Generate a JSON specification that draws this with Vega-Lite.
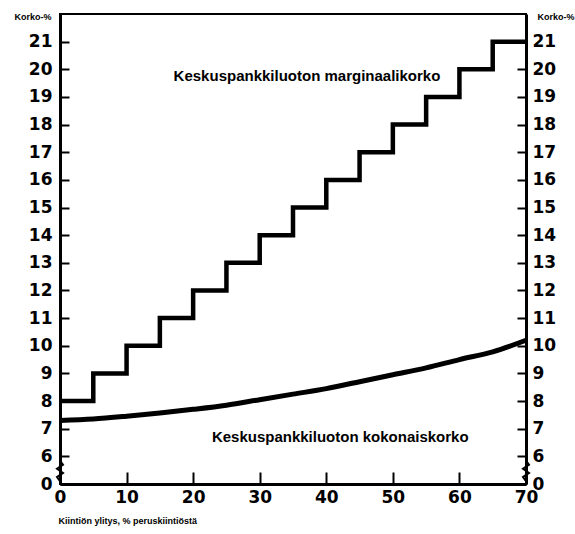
{
  "$schema": "https://vega.github.io/schema/vega-lite/v6.json",
  "width": 466,
  "height": 470,
  "autosize": {"type": "none"},
  "padding": {"left": 60, "top": 14, "right": 49, "bottom": 50},
  "background": "white",
  "config": {
    "view": {"stroke": "black", "strokeWidth": 2},
    "axis": {"grid": false, "domainColor": "black", "tickColor": "black", "labelColor": "black", "titleColor": "black", "labelFont": "DejaVu Sans", "titleFont": "Liberation Sans", "labelFontWeight": "bold", "titleFontWeight": "bold"},
    "text": {"font": "Liberation Sans", "fontWeight": "bold", "color": "black"}
  },
  "datasets": {
    "marg": [
      {"x": 0, "y": 8}, {"x": 5, "y": 9}, {"x": 10, "y": 10}, {"x": 15, "y": 11},
      {"x": 20, "y": 12}, {"x": 25, "y": 13}, {"x": 30, "y": 14}, {"x": 35, "y": 15},
      {"x": 40, "y": 16}, {"x": 45, "y": 17}, {"x": 50, "y": 18}, {"x": 55, "y": 19},
      {"x": 60, "y": 20}, {"x": 65, "y": 21}, {"x": 70, "y": 21}
    ],
    "tot": [
      {"x": 0, "y": 7.3}, {"x": 5, "y": 7.35}, {"x": 10, "y": 7.45}, {"x": 15, "y": 7.57},
      {"x": 20, "y": 7.7}, {"x": 25, "y": 7.85}, {"x": 30, "y": 8.05}, {"x": 35, "y": 8.25},
      {"x": 40, "y": 8.45}, {"x": 45, "y": 8.7}, {"x": 50, "y": 8.95}, {"x": 55, "y": 9.2},
      {"x": 60, "y": 9.5}, {"x": 65, "y": 9.78}, {"x": 70, "y": 10.2}
    ],
    "labels": [
      {"x": 37.1, "y": 19.76, "t": "Keskuspankkiluoton marginaalikorko"},
      {"x": 42.1, "y": 6.7, "t": "Keskuspankkiluoton kokonaiskorko"}
    ],
    "brk": [
      {"s": "L", "i": 0, "x": 0, "y": 5.1}, {"s": "L", "i": 1, "x": -0.45, "y": 5.25},
      {"s": "L", "i": 2, "x": 0.45, "y": 5.4}, {"s": "L", "i": 3, "x": -0.45, "y": 5.55},
      {"s": "L", "i": 4, "x": 0.45, "y": 5.7}, {"s": "L", "i": 5, "x": 0, "y": 5.85},
      {"s": "R", "i": 0, "x": 70, "y": 5.1}, {"s": "R", "i": 1, "x": 69.55, "y": 5.25},
      {"s": "R", "i": 2, "x": 70.45, "y": 5.4}, {"s": "R", "i": 3, "x": 69.55, "y": 5.55},
      {"s": "R", "i": 4, "x": 70.45, "y": 5.7}, {"s": "R", "i": 5, "x": 70, "y": 5.85}
    ]
  },
  "layer": [
    {
      "data": {"name": "marg"},
      "mark": {"type": "line", "interpolate": "step-after", "color": "black", "strokeWidth": 4.5},
      "encoding": {
        "x": {"field": "x", "type": "quantitative", "scale": {"domain": [0, 70], "nice": false},
          "axis": {"values": [0, 5, 10, 15, 20, 25, 30, 35, 40, 45, 50, 55, 60, 65, 70], "domainWidth": 3, "tickWidth": 2, "tickSize": -12, "labelPadding": 17, "labelFontSize": 17, "labelFlush": false,
            "title": "Kiintiön ylitys, % peruskiintiöstä", "titleFontSize": 9, "titleAnchor": "start", "titleAlign": "left", "titleX": -2, "titleY": 36, "titleBaseline": "middle"}},
        "y": {"field": "y", "type": "quantitative", "scale": {"domain": [5, 22], "nice": false, "zero": false},
          "axis": {"orient": "left", "values": [5, 6, 7, 8, 9, 10, 11, 12, 13, 14, 15, 16, 17, 18, 19, 20, 21], "labelExpr": "datum.value == 5 ? '0' : datum.label", "domainWidth": 3, "tickWidth": 2, "tickSize": -9, "labelPadding": 17, "labelFontSize": 17, "labelFlush": false,
            "title": "Korko-%", "titleFontSize": 9, "titleAngle": 0, "titleAlign": "right", "titleX": -9, "titleY": 2, "titleBaseline": "middle"}}
      }
    },
    {
      "data": {"name": "tot"},
      "mark": {"type": "line", "interpolate": "monotone", "color": "black", "strokeWidth": 5},
      "encoding": {
        "x": {"field": "x", "type": "quantitative"},
        "y": {"field": "y", "type": "quantitative",
          "axis": {"orient": "right", "values": [5, 6, 7, 8, 9, 10, 11, 12, 13, 14, 15, 16, 17, 18, 19, 20, 21], "labelExpr": "datum.value == 5 ? '0' : datum.label", "domainWidth": 3, "tickWidth": 2, "tickSize": -9, "labelPadding": 15, "labelFontSize": 17, "labelFlush": false,
            "title": "Korko-%", "titleFontSize": 9, "titleAngle": 0, "titleAlign": "left", "titleX": 11, "titleY": 2, "titleBaseline": "middle"}}
      }
    },
    {
      "data": {"name": "brk"},
      "mark": {"type": "line", "color": "black", "strokeWidth": 2},
      "encoding": {
        "x": {"field": "x", "type": "quantitative"},
        "y": {"field": "y", "type": "quantitative", "axis": null},
        "detail": {"field": "s"},
        "order": {"field": "i"}
      }
    },
    {
      "data": {"name": "labels"},
      "mark": {"type": "text", "fontSize": 15, "align": "center", "baseline": "middle"},
      "encoding": {
        "x": {"field": "x", "type": "quantitative"},
        "y": {"field": "y", "type": "quantitative", "axis": null},
        "text": {"field": "t"}
      }
    }
  ],
  "resolve": {"axis": {"y": "independent"}}
}
